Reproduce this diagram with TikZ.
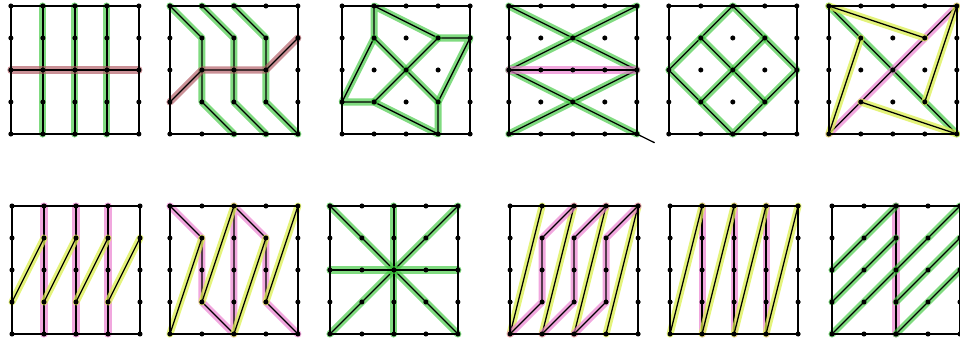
\documentclass[tikz,border=0pt]{standalone}
\definecolor{hlgreen}{RGB}{60,200,60}
\definecolor{hlpink}{RGB}{235,120,205}
\definecolor{hlyellow}{RGB}{220,240,80}
\definecolor{hlred}{RGB}{175,85,95}
% square of 4x4 cells with its 25 dots
\newcommand{\dotsquare}{%
  \draw[frame] (0,0) rectangle (4,4);
  \foreach \i in {0,...,4}
    \foreach \j in {0,...,4}
      \fill (\i,\j) circle (1.8pt);
}
\begin{document}
\begin{tikzpicture}[x=0.8cm,y=0.8cm,
  frame/.style={black,line width=1.1pt},
  pen/.style={black,line width=0.9pt,line cap=round,line join=round},
  hl/.style={line width=5pt,line cap=round,line join=round},
  gl/.style={pen,preaction={draw=hlgreen,draw opacity=.65,hl}},
  pl/.style={pen,preaction={draw=hlpink,draw opacity=.65,hl}},
  yl/.style={pen,preaction={draw=hlyellow,draw opacity=.75,hl}},
  rl/.style={pen,preaction={draw=hlred,draw opacity=.65,hl}}]
\fill[white] (0,0) rectangle (30,10.6875);
\useasboundingbox (0,0) rectangle (30,10.6875);
% top row
\begin{scope}[shift={(0.34,6.5)}]
  \foreach \x in {1,2,3} \draw[gl] (\x,0) -- (\x,4);
  \draw[rl] (0,2) -- (4,2);
  \dotsquare
\end{scope}
\begin{scope}[shift={(5.31,6.5)}]
  \foreach \x in {0,1,2} \draw[gl] (\x,4) -- (\x+1,3) -- (\x+1,1) -- (\x+2,0);
  \draw[rl] (0,1) -- (1,2) -- (3,2) -- (4,3);
  \dotsquare
\end{scope}
\begin{scope}[shift={(10.69,6.5)}]
  \draw[gl] (1,4) -- (1,3) -- (0,1) -- (1,1) -- (3,0) -- (3,1) -- (4,3) -- (3,3) -- cycle;
  \draw[gl] (1,3) -- (3,1);
  \draw[gl] (3,3) -- (1,1);
  \dotsquare
\end{scope}
\begin{scope}[shift={(15.9,6.5)}]
  \draw[gl] (0,4) -- (4,2);
  \draw[gl] (0,2) -- (4,4);
  \draw[gl] (0,0) -- (4,2);
  \draw[gl] (0,2) -- (4,0);
  \draw[pen] (4,0) -- (4.55,-0.27);
  \draw[pl] (0,2) -- (4,2);
  \dotsquare
\end{scope}
\begin{scope}[shift={(20.9,6.5)}]
  \draw[gl] (2,4) -- (4,2) -- (2,0) -- (0,2) -- cycle;
  \draw[gl] (1,3) -- (3,1);
  \draw[gl] (3,3) -- (1,1);
  \dotsquare
\end{scope}
\begin{scope}[shift={(25.9,6.5)}]
  \draw[gl] (0,4) -- (4,0);
  \draw[pl] (0,0) -- (4,4);
  \draw[yl] (0,4) -- (3,3);
  \draw[yl] (4,4) -- (3,1);
  \draw[yl] (4,0) -- (1,1);
  \draw[yl] (0,0) -- (1,3);
  \dotsquare
\end{scope}
% bottom row
\begin{scope}[shift={(0.375,0.25)}]
  \foreach \x in {1,2,3} \draw[pl] (\x,0) -- (\x,4);
  \foreach \x in {0,...,3} \draw[yl] (\x,1) -- (\x+1,3);
  \dotsquare
\end{scope}
\begin{scope}[shift={(5.31,0.25)}]
  \draw[pl] (0,4) -- (1,3) -- (1,1) -- (2,0) -- (2,4) -- (3,3) -- (3,1) -- (4,0);
  \draw[yl] (0,0) -- (1,3);
  \draw[yl] (1,1) -- (2,4);
  \draw[yl] (2,0) -- (3,3);
  \draw[yl] (3,1) -- (4,4);
  \dotsquare
\end{scope}
\begin{scope}[shift={(10.31,0.25)}]
  \draw[gl] (0,0) -- (4,4);
  \draw[gl] (0,4) -- (4,0);
  \draw[gl] (2,0) -- (2,4);
  \draw[gl] (0,2) -- (4,2);
  \dotsquare
\end{scope}
\begin{scope}[shift={(15.94,0.25)}]
  \foreach \x in {0,...,3} \draw[yl] (\x,0) -- (\x+1,4);
  \foreach \x in {0,1,2} \draw[pl] (\x,0) -- (\x+1,1) -- (\x+1,3) -- (\x+2,4);
  \dotsquare
\end{scope}
\begin{scope}[shift={(20.94,0.25)}]
  \foreach \x in {1,2,3} \draw[pl] (\x,0) -- (\x,4);
  \foreach \x in {0,...,3} \draw[yl] (\x,0) -- (\x+1,4);
  \dotsquare
\end{scope}
\begin{scope}[shift={(26,0.25)}]
  \draw[pl] (2,0) -- (2,4);
  \foreach \y in {0,1,2} {
    \draw[gl] (0,\y) -- (2,\y+2);
    \draw[gl] (2,\y) -- (4,\y+2);
  }
  \dotsquare
\end{scope}
\end{tikzpicture}
\end{document}
